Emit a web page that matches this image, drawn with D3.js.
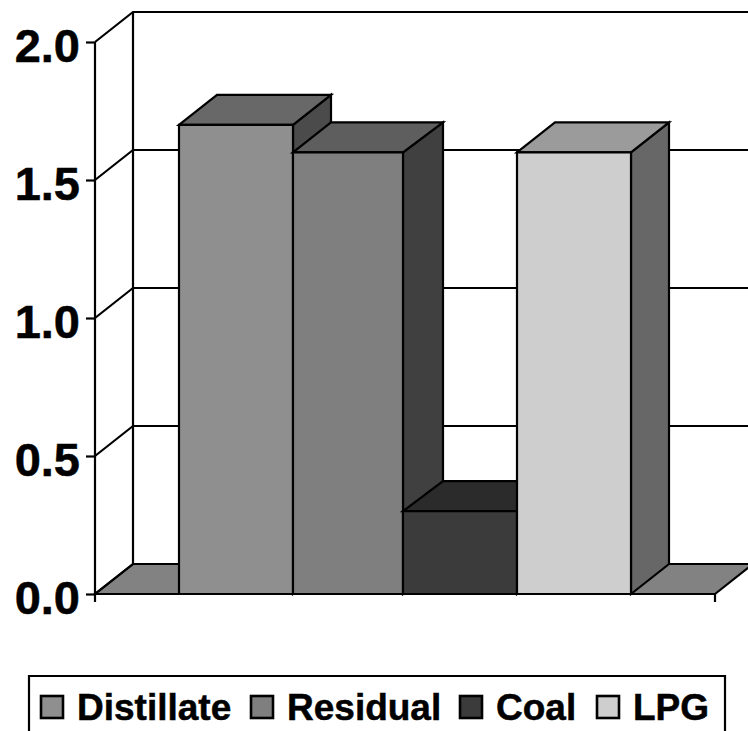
<!DOCTYPE html>
<html>
<head>
<meta charset="utf-8">
<script src="https://cdn.jsdelivr.net/npm/d3@7/dist/d3.min.js"></script>
<style>
  html, body { margin: 0; padding: 0; background: #fff; overflow: hidden; }
  svg { display: block; }
  text { font-family: "Liberation Sans", Arial, sans-serif; font-weight: bold; fill: #000; stroke: #000; stroke-width: 0.5px; }
</style>
</head>
<body>
<svg id="chart" width="748" height="731"></svg>
<script>
// Fuel shares, one bar per fuel
const categories = ["Distillate", "Residual", "Coal", "LPG"];
const values = [1.7, 1.6, 0.3, 1.6];
const frontFills = ["#8f8f8f", "#7f7f7f", "#3b3b3b", "#cecece"];
const topFills = ["#686868", "#5e5e5e", "#2b2b2b", "#9b9b9b"];
const sideFills = ["#4b4b4b", "#404040", "#262626", "#676767"];
const yTicks = [0, 0.5, 1, 1.5, 2];

// Oblique projection offset from the front plane to the back wall
const depthX = 38, depthY = -30;

const y = d3.scaleLinear().domain([0, 2]).range([594, 42]);
// Bar edges on the front plane and on the back plane, with a closing edge for the last bar
const edgeKeys = [...categories, "end"];
const frontEdge = d3.scaleOrdinal().domain(edgeKeys).range([179, 293, 403, 517, 631]);
const backEdge = d3.scaleOrdinal().domain(edgeKeys).range([217, 331, 443, 555, 669]);
const plotLeft = 95, plotRight = 715;

const svg = d3.select("#chart");
const line = d3.line();
const applyInk = (sel, fill, width = 2.2) =>
  sel.attr("stroke", "#000").attr("stroke-width", width).attr("stroke-linejoin", "miter").attr("fill", fill);
const back = ([px, py]) => [px + depthX, py + depthY];

// Floor of the plot box
applyInk(svg.append("path"), "#828282")
  .attr("d", line([[plotLeft, y(0)], [plotRight, y(0)], back([plotRight, y(0)]), back([plotLeft, y(0)])]) + "Z");

// Back wall frame and gridlines
const walls = svg.append("g");
yTicks.filter(t => t > 0).forEach(t => {
  const front = [plotLeft, y(t)];
  applyInk(walls.append("path"), "none")
    .attr("d", line([front, back(front), [750, back(front)[1]]]));
});
applyInk(walls.append("path"), "none")
  .attr("d", line([back([plotLeft, y(2)]), back([plotLeft, y(0)]), [plotLeft, y(0)]]));

// Value axis with outward ticks
const axis = d3.axisLeft(y).tickValues(yTicks).tickFormat(d3.format(".1f")).tickSize(9).tickPadding(6);
const axisG = svg.append("g").attr("transform", `translate(${plotLeft},0)`).call(axis);
axisG.select(".domain").remove();
axisG.selectAll("line").attr("stroke", "#000").attr("stroke-width", 2.2);
axisG.selectAll("text")
  .attr("font-size", 47)
  .attr("font-family", null)
  .attr("dy", 19);
applyInk(svg.append("path"), "none").attr("d", line([[plotLeft, y(2)], [plotLeft, y(0) + 8]]));
applyInk(svg.append("path"), "none").attr("d", line([[plotRight, y(0)], [plotRight, y(0) + 8]]));

// Bars, left to right so that each one overlaps its neighbour's side face
categories.forEach((c, i) => {
  const next = edgeKeys[i + 1];
  const x0 = frontEdge(c), x1 = frontEdge(next);
  const bx0 = backEdge(c), bx1 = backEdge(next);
  const top = y(values[i]), base = y(0);
  const g = svg.append("g");
  applyInk(g.append("path"), sideFills[i])
    .attr("d", line([[x1, base], [bx1, base + depthY], [bx1, top + depthY], [x1, top]]) + "Z");
  applyInk(g.append("path"), topFills[i])
    .attr("d", line([[x0, top], [bx0, top + depthY], [bx1, top + depthY], [x1, top]]) + "Z");
  applyInk(g.append("path"), frontFills[i])
    .attr("d", line([[x0, top], [x1, top], [x1, base], [x0, base]]) + "Z");
});

// Legend, whose frame runs off the lower edge of the page
applyInk(svg.append("path"), "none")
  .attr("d", line([[29, 740], [29, 676], [725, 676], [725, 740]]));
const swatchX = [41, 251, 460, 597];
const legend = svg.append("g");
categories.forEach((c, i) => {
  applyInk(legend.append("rect"), frontFills[i], 2.6)
    .attr("x", swatchX[i]).attr("y", 696).attr("width", 22).attr("height", 22);
  legend.append("text")
    .attr("x", swatchX[i] + 36).attr("y", 720)
    .attr("font-size", 37)
    .text(c);
});
</script>
</body>
</html>
